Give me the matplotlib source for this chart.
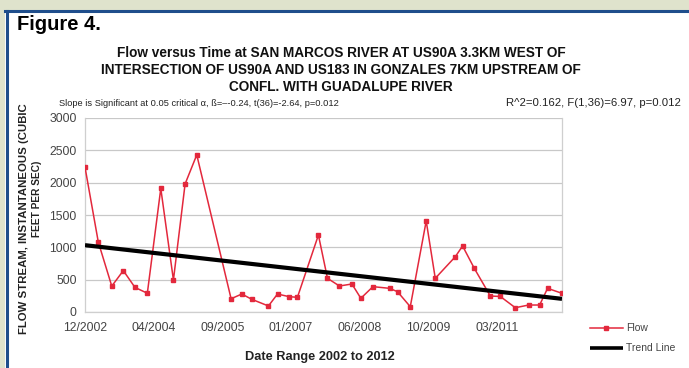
import numpy as np
import matplotlib
matplotlib.use("Agg")
import matplotlib.pyplot as plt
import matplotlib.dates as mdates
from matplotlib.patches import Rectangle
from matplotlib.lines import Line2D

plt.rcParams['font.family'] = ['Liberation Sans', 'DejaVu Sans']

# ---- data ----
start_date = "2002-12-16"
sample_day = [0, 97, 195, 279, 364, 454, 552, 644, 729, 814,
              1064, 1142, 1215, 1336, 1402, 1487, 1547, 1700, 1766, 1853,
              1944, 2009, 2097, 2218, 2276, 2369, 2485, 2551, 2697, 2750,
              2835, 2952, 3025, 3134, 3231, 3311, 3369, 3474]
flow = [2240, 1080, 400, 640, 380, 290, 1910, 495, 1980, 2430,
        205, 278, 196, 93, 278, 237, 227, 1190, 521, 402,
        433, 212, 392, 366, 314, 82, 1407, 521, 855, 1021,
        676, 247, 240, 66, 108, 108, 366, 289]
y_ticks = [0, 500, 1000, 1500, 2000, 2500, 3000]
tick_step_days = 500

title = ("Flow versus Time at SAN MARCOS RIVER AT US90A 3.3KM WEST OF\n"
         "INTERSECTION OF US90A AND US183 IN GONZALES 7KM UPSTREAM OF\n"
         "CONFL. WITH GUADALUPE RIVER")
stats_left = "Slope is Significant at 0.05 critical \u03b1, \u00df=\u2013-0.24, t(36)=-2.64, p=0.012"
stats_right = "R^2=0.162, F(1,36)=6.97, p=0.012"

# ---- figure ----
W, H = 689, 368
fig = plt.figure(figsize=(W / 100, H / 100), dpi=100)
fig.patch.set_facecolor('white')

def fx(px):
    return px / W
def fy(py):
    return 1 - py / H

# decorative frame
fig.add_artist(Rectangle((0, fy(10)), 1, 10 / H, transform=fig.transFigure,
                         facecolor='#dfe3cc', edgecolor='none', zorder=0))
fig.add_artist(Rectangle((0, 0), fx(5), 1, transform=fig.transFigure,
                         facecolor='#dfe3cc', edgecolor='none', zorder=0))
fig.add_artist(Line2D([fx(5), 1], [fy(11), fy(11)], transform=fig.transFigure,
                      color='#1f4e8c', lw=2.2))
fig.add_artist(Line2D([fx(6.5), fx(6.5)], [0, fy(11)], transform=fig.transFigure,
                      color='#1f4e8c', lw=2.2))

fig.text(fx(17), fy(25), "Figure 4.", fontsize=14.5, fontweight='bold',
         ha='left', va='center', color='black')

fig.text(fx(341), fy(70), title, fontsize=9.8, fontweight='bold', ha='center',
         va='center', linespacing=1.3, color='#111111')
fig.text(fx(59), fy(103), stats_left, fontsize=6.7, ha='left', va='center', color='#222222')
fig.text(fx(681), fy(103), stats_right, fontsize=8.2, ha='right', va='center', color='#222222')

# ---- axes ----
ax = fig.add_axes([fx(85), fy(312), fx(562) - fx(85), fy(118) - fy(312)])
t0 = np.datetime64(start_date)
dates = (t0 + np.array(sample_day).astype('timedelta64[D]')).astype('datetime64[D]').astype(object)

x_num = mdates.date2num(dates)
coef = np.polyfit(x_num, flow, 1)
trend_x = np.array([x_num[0], x_num[-1]])
trend_y = np.polyval(coef, trend_x)

ax.plot(dates, flow, color='#e3283c', lw=1.1, marker='s', markersize=3.2,
        markerfacecolor='#e3283c', markeredgecolor='#e3283c', zorder=3)
ax.plot(mdates.num2date(trend_x), trend_y, color='black', lw=3.0, zorder=4,
        solid_capstyle='butt')

ax.set_xlim(x_num[0], x_num[-1])
ax.set_ylim(0, 3000)
ax.set_yticks(y_ticks)
ticks = [x_num[0] + k * tick_step_days for k in range(7)
         if x_num[0] + k * tick_step_days <= x_num[-1]]
ax.set_xticks(ticks)
ax.xaxis.set_major_formatter(mdates.DateFormatter('%m/%Y'))
ax.grid(axis='y', color='#c8c8c8', lw=0.9)
ax.set_axisbelow(True)
ax.spines['top'].set_visible(False)
for s in ['left', 'bottom', 'right']:
    ax.spines[s].set_color('#cfcfcf')
    ax.spines[s].set_linewidth(0.9)
ax.tick_params(axis='both', length=0, labelsize=8.8, colors='#444444')
ax.tick_params(axis='y', pad=6)
ax.tick_params(axis='x', pad=7)

# axis labels
fig.text(fx(24), fy(219), "FLOW STREAM, INSTANTANEOUS (CUBIC", rotation=90,
         fontsize=8.2, fontweight='bold', ha='center', va='center', color='#222222')
fig.text(fx(37), fy(199), "FEET PER SEC)", rotation=90,
         fontsize=7.3, fontweight='bold', ha='center', va='center', color='#222222')
fig.text(fx(320), fy(357), "Date Range 2002 to 2012", fontsize=9.2, fontweight='bold',
         ha='center', va='center', color='#222222')

# legend
fig.add_artist(Line2D([fx(590), fx(623)], [fy(328), fy(328)], transform=fig.transFigure,
                      color='#e3283c', lw=1.1))
fig.add_artist(Line2D([fx(606)], [fy(328)], transform=fig.transFigure, color='#e3283c',
                      marker='s', markersize=3.2, lw=0))
fig.text(fx(626), fy(328), "Flow", fontsize=7.5, ha='left', va='center', color='#444444')
fig.add_artist(Line2D([fx(590), fx(623)], [fy(348), fy(348)], transform=fig.transFigure,
                      color='black', lw=2.6, solid_capstyle='butt'))
fig.text(fx(626), fy(348), "Trend Line", fontsize=7.5, ha='left', va='center', color='#444444')

fig.savefig("out.png", dpi=100, facecolor=fig.get_facecolor())
